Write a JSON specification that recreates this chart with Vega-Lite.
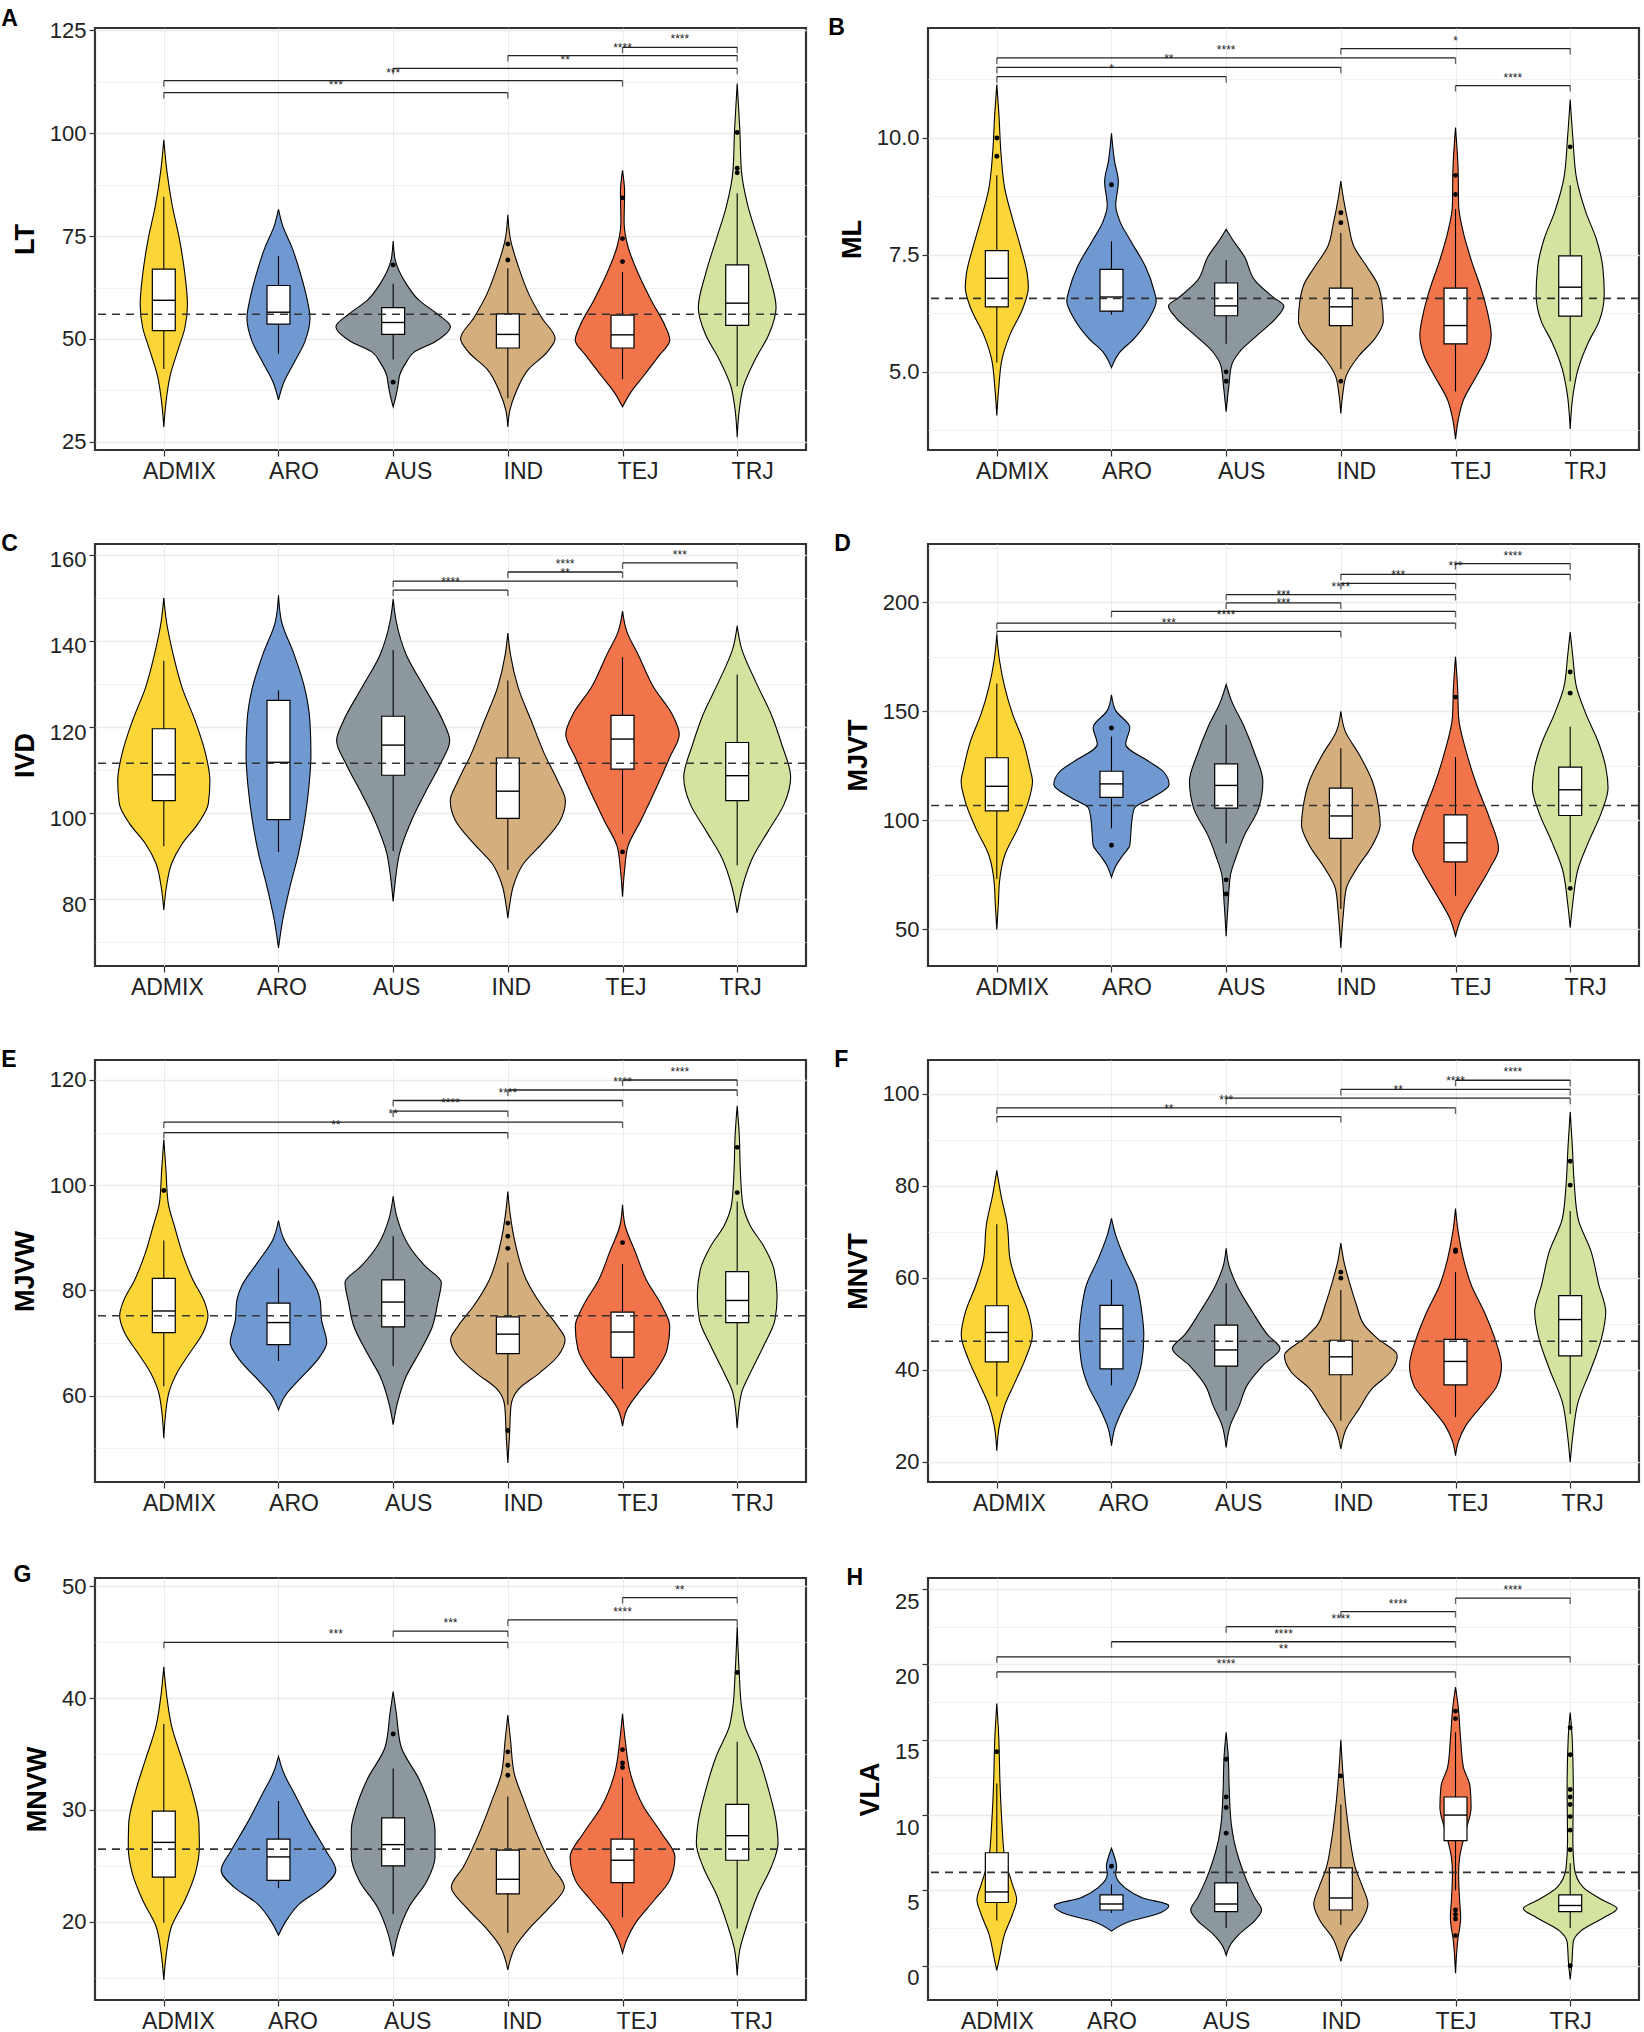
{
  "$schema": "https://vega.github.io/schema/vega-lite/v6.json",
  "padding": {"left": 0, "top": 7, "right": 0, "bottom": 0},
  "background": "white",
  "columns": 2,
  "spacing": {"row": 46, "column": 19},
  "datasets": {
    "viol": [
      {"p":"A","g":"ADMIX","y":98.4,"w":0},{"p":"A","g":"ADMIX","y":90.8,"w":0.027},{"p":"A","g":"ADMIX","y":82.5,"w":0.073},{"p":"A","g":"ADMIX","y":74.2,"w":0.137},{"p":"A","g":"ADMIX","y":65.9,"w":0.183},{"p":"A","g":"ADMIX","y":58.4,"w":0.206},{"p":"A","g":"ADMIX","y":52.6,"w":0.183},{"p":"A","g":"ADMIX","y":47.7,"w":0.128},{"p":"A","g":"ADMIX","y":41.0,"w":0.055},{"p":"A","g":"ADMIX","y":34.4,"w":0.018},{"p":"A","g":"ADMIX","y":28.6,"w":0},
      {"p":"A","g":"ARO","y":81.5,"w":0},{"p":"A","g":"ARO","y":77.5,"w":0.037},{"p":"A","g":"ARO","y":72.5,"w":0.114},{"p":"A","g":"ARO","y":65.9,"w":0.192},{"p":"A","g":"ARO","y":59.3,"w":0.252},{"p":"A","g":"ARO","y":55.1,"w":0.275},{"p":"A","g":"ARO","y":49.3,"w":0.229},{"p":"A","g":"ARO","y":44.3,"w":0.137},{"p":"A","g":"ARO","y":39.4,"w":0.046},{"p":"A","g":"ARO","y":35.2,"w":0},
      {"p":"A","g":"AUS","y":73.8,"w":0},{"p":"A","g":"AUS","y":69.2,"w":0.018},{"p":"A","g":"AUS","y":63.4,"w":0.114},{"p":"A","g":"AUS","y":59.3,"w":0.229},{"p":"A","g":"AUS","y":56.0,"w":0.389},{"p":"A","g":"AUS","y":53.0,"w":0.499},{"p":"A","g":"AUS","y":49.3,"w":0.366},{"p":"A","g":"AUS","y":46.8,"w":0.183},{"p":"A","g":"AUS","y":44.3,"w":0.114},{"p":"A","g":"AUS","y":41.0,"w":0.055},{"p":"A","g":"AUS","y":39.4,"w":0.046},{"p":"A","g":"AUS","y":36.0,"w":0.023},{"p":"A","g":"AUS","y":33.5,"w":0},
      {"p":"A","g":"IND","y":80.2,"w":0},{"p":"A","g":"IND","y":74.2,"w":0.023},{"p":"A","g":"IND","y":67.6,"w":0.092},{"p":"A","g":"IND","y":60.9,"w":0.183},{"p":"A","g":"IND","y":55.1,"w":0.297},{"p":"A","g":"IND","y":50.1,"w":0.412},{"p":"A","g":"IND","y":46.8,"w":0.343},{"p":"A","g":"IND","y":42.7,"w":0.183},{"p":"A","g":"IND","y":36.9,"w":0.069},{"p":"A","g":"IND","y":32.7,"w":0.018},{"p":"A","g":"IND","y":28.6,"w":0},
      {"p":"A","g":"TEJ","y":91.0,"w":0},{"p":"A","g":"TEJ","y":85.8,"w":0.018},{"p":"A","g":"TEJ","y":78.4,"w":0.014},{"p":"A","g":"TEJ","y":72.6,"w":0.046},{"p":"A","g":"TEJ","y":65.9,"w":0.137},{"p":"A","g":"TEJ","y":59.3,"w":0.252},{"p":"A","g":"TEJ","y":53.5,"w":0.366},{"p":"A","g":"TEJ","y":49.7,"w":0.412},{"p":"A","g":"TEJ","y":46.0,"w":0.32},{"p":"A","g":"TEJ","y":41.0,"w":0.183},{"p":"A","g":"TEJ","y":36.9,"w":0.069},{"p":"A","g":"TEJ","y":33.5,"w":0},
      {"p":"A","g":"TRJ","y":112.1,"w":0},{"p":"A","g":"TRJ","y":100.8,"w":0.023},{"p":"A","g":"TRJ","y":90.8,"w":0.037},{"p":"A","g":"TRJ","y":82.5,"w":0.092},{"p":"A","g":"TRJ","y":74.2,"w":0.183},{"p":"A","g":"TRJ","y":65.9,"w":0.275},{"p":"A","g":"TRJ","y":57.6,"w":0.339},{"p":"A","g":"TRJ","y":51.0,"w":0.275},{"p":"A","g":"TRJ","y":45.2,"w":0.16},{"p":"A","g":"TRJ","y":38.5,"w":0.055},{"p":"A","g":"TRJ","y":32.7,"w":0.018},{"p":"A","g":"TRJ","y":26.1,"w":0},

      {"p":"B","g":"ADMIX","y":11.14,"w":0},{"p":"B","g":"ADMIX","y":10.52,"w":0.018},{"p":"B","g":"ADMIX","y":9.65,"w":0.037},{"p":"B","g":"ADMIX","y":8.92,"w":0.069},{"p":"B","g":"ADMIX","y":8.27,"w":0.137},{"p":"B","g":"ADMIX","y":7.68,"w":0.206},{"p":"B","g":"ADMIX","y":7.1,"w":0.265},{"p":"B","g":"ADMIX","y":6.81,"w":0.275},{"p":"B","g":"ADMIX","y":6.37,"w":0.229},{"p":"B","g":"ADMIX","y":5.79,"w":0.114},{"p":"B","g":"ADMIX","y":5.28,"w":0.046},{"p":"B","g":"ADMIX","y":4.69,"w":0.018},{"p":"B","g":"ADMIX","y":4.07,"w":0},
      {"p":"B","g":"ARO","y":10.1,"w":0},{"p":"B","g":"ARO","y":9.5,"w":0.027},{"p":"B","g":"ARO","y":9.07,"w":0.06},{"p":"B","g":"ARO","y":8.56,"w":0.037},{"p":"B","g":"ARO","y":8.19,"w":0.078},{"p":"B","g":"ARO","y":7.83,"w":0.16},{"p":"B","g":"ARO","y":7.24,"w":0.298},{"p":"B","g":"ARO","y":6.73,"w":0.372},{"p":"B","g":"ARO","y":6.52,"w":0.39},{"p":"B","g":"ARO","y":6.15,"w":0.33},{"p":"B","g":"ARO","y":5.71,"w":0.197},{"p":"B","g":"ARO","y":5.42,"w":0.073},{"p":"B","g":"ARO","y":5.09,"w":0},
      {"p":"B","g":"AUS","y":8.05,"w":0},{"p":"B","g":"AUS","y":7.83,"w":0.055},{"p":"B","g":"AUS","y":7.46,"w":0.16},{"p":"B","g":"AUS","y":6.95,"w":0.252},{"p":"B","g":"AUS","y":6.59,"w":0.412},{"p":"B","g":"AUS","y":6.41,"w":0.503},{"p":"B","g":"AUS","y":6.15,"w":0.435},{"p":"B","g":"AUS","y":5.79,"w":0.275},{"p":"B","g":"AUS","y":5.42,"w":0.114},{"p":"B","g":"AUS","y":5.13,"w":0.046},{"p":"B","g":"AUS","y":4.69,"w":0.023},{"p":"B","g":"AUS","y":4.15,"w":0},
      {"p":"B","g":"IND","y":9.08,"w":0},{"p":"B","g":"IND","y":8.7,"w":0.023},{"p":"B","g":"IND","y":8.19,"w":0.064},{"p":"B","g":"IND","y":7.68,"w":0.114},{"p":"B","g":"IND","y":7.24,"w":0.229},{"p":"B","g":"IND","y":6.88,"w":0.32},{"p":"B","g":"IND","y":6.52,"w":0.357},{"p":"B","g":"IND","y":6.08,"w":0.37},{"p":"B","g":"IND","y":5.71,"w":0.297},{"p":"B","g":"IND","y":5.35,"w":0.16},{"p":"B","g":"IND","y":4.91,"w":0.046},{"p":"B","g":"IND","y":4.55,"w":0.018},{"p":"B","g":"IND","y":4.11,"w":0},
      {"p":"B","g":"TEJ","y":10.22,"w":0},{"p":"B","g":"TEJ","y":9.29,"w":0.023},{"p":"B","g":"TEJ","y":8.56,"w":0.027},{"p":"B","g":"TEJ","y":7.97,"w":0.069},{"p":"B","g":"TEJ","y":7.39,"w":0.137},{"p":"B","g":"TEJ","y":6.73,"w":0.229},{"p":"B","g":"TEJ","y":6.22,"w":0.284},{"p":"B","g":"TEJ","y":5.79,"w":0.311},{"p":"B","g":"TEJ","y":5.35,"w":0.275},{"p":"B","g":"TEJ","y":4.91,"w":0.183},{"p":"B","g":"TEJ","y":4.4,"w":0.069},{"p":"B","g":"TEJ","y":3.97,"w":0.023},{"p":"B","g":"TEJ","y":3.56,"w":0},
      {"p":"B","g":"TRJ","y":10.82,"w":0},{"p":"B","g":"TRJ","y":10.01,"w":0.023},{"p":"B","g":"TRJ","y":9.14,"w":0.055},{"p":"B","g":"TRJ","y":8.41,"w":0.137},{"p":"B","g":"TRJ","y":7.83,"w":0.229},{"p":"B","g":"TRJ","y":7.24,"w":0.284},{"p":"B","g":"TRJ","y":6.66,"w":0.297},{"p":"B","g":"TRJ","y":6.08,"w":0.252},{"p":"B","g":"TRJ","y":5.64,"w":0.16},{"p":"B","g":"TRJ","y":5.06,"w":0.069},{"p":"B","g":"TRJ","y":4.55,"w":0.027},{"p":"B","g":"TRJ","y":3.78,"w":0},

      {"p":"C","g":"ADMIX","y":150,"w":0},{"p":"C","g":"ADMIX","y":144.5,"w":0.023},{"p":"C","g":"ADMIX","y":136.8,"w":0.082},{"p":"C","g":"ADMIX","y":129.1,"w":0.16},{"p":"C","g":"ADMIX","y":121.4,"w":0.274},{"p":"C","g":"ADMIX","y":113.7,"w":0.365},{"p":"C","g":"ADMIX","y":107.5,"w":0.402},{"p":"C","g":"ADMIX","y":102.2,"w":0.388},{"p":"C","g":"ADMIX","y":97.5,"w":0.297},{"p":"C","g":"ADMIX","y":92.9,"w":0.16},{"p":"C","g":"ADMIX","y":88.3,"w":0.068},{"p":"C","g":"ADMIX","y":82.9,"w":0.023},{"p":"C","g":"ADMIX","y":77.5,"w":0},
      {"p":"C","g":"ARO","y":150.6,"w":0},{"p":"C","g":"ARO","y":144.5,"w":0.027},{"p":"C","g":"ARO","y":136.8,"w":0.137},{"p":"C","g":"ARO","y":129.1,"w":0.228},{"p":"C","g":"ARO","y":121.4,"w":0.274},{"p":"C","g":"ARO","y":113.7,"w":0.283},{"p":"C","g":"ARO","y":106,"w":0.265},{"p":"C","g":"ARO","y":98.3,"w":0.228},{"p":"C","g":"ARO","y":90.6,"w":0.174},{"p":"C","g":"ARO","y":82.9,"w":0.1},{"p":"C","g":"ARO","y":75.2,"w":0.037},{"p":"C","g":"ARO","y":68.7,"w":0},
      {"p":"C","g":"AUS","y":149.7,"w":0},{"p":"C","g":"AUS","y":144.5,"w":0.027},{"p":"C","g":"AUS","y":136.8,"w":0.114},{"p":"C","g":"AUS","y":129.1,"w":0.274},{"p":"C","g":"AUS","y":121.4,"w":0.434},{"p":"C","g":"AUS","y":116.8,"w":0.493},{"p":"C","g":"AUS","y":111.4,"w":0.411},{"p":"C","g":"AUS","y":104.5,"w":0.274},{"p":"C","g":"AUS","y":98.3,"w":0.16},{"p":"C","g":"AUS","y":90.6,"w":0.055},{"p":"C","g":"AUS","y":85.2,"w":0.023},{"p":"C","g":"AUS","y":79.5,"w":0},
      {"p":"C","g":"IND","y":141.8,"w":0},{"p":"C","g":"IND","y":136.8,"w":0.023},{"p":"C","g":"IND","y":129.1,"w":0.091},{"p":"C","g":"IND","y":121.4,"w":0.205},{"p":"C","g":"IND","y":113.7,"w":0.32},{"p":"C","g":"IND","y":107.5,"w":0.434},{"p":"C","g":"IND","y":102.9,"w":0.502},{"p":"C","g":"IND","y":98.3,"w":0.457},{"p":"C","g":"IND","y":92.9,"w":0.297},{"p":"C","g":"IND","y":88.3,"w":0.137},{"p":"C","g":"IND","y":82.9,"w":0.046},{"p":"C","g":"IND","y":79.1,"w":0.018},{"p":"C","g":"IND","y":75.6,"w":0},
      {"p":"C","g":"TEJ","y":146.9,"w":0},{"p":"C","g":"TEJ","y":142.2,"w":0.037},{"p":"C","g":"TEJ","y":136.8,"w":0.137},{"p":"C","g":"TEJ","y":129.1,"w":0.274},{"p":"C","g":"TEJ","y":122.9,"w":0.434},{"p":"C","g":"TEJ","y":118.3,"w":0.495},{"p":"C","g":"TEJ","y":112.9,"w":0.411},{"p":"C","g":"TEJ","y":106,"w":0.297},{"p":"C","g":"TEJ","y":98.3,"w":0.16},{"p":"C","g":"TEJ","y":92.2,"w":0.046},{"p":"C","g":"TEJ","y":86.8,"w":0.018},{"p":"C","g":"TEJ","y":80.6,"w":0},
      {"p":"C","g":"TRJ","y":143.5,"w":0},{"p":"C","g":"TRJ","y":138.3,"w":0.037},{"p":"C","g":"TRJ","y":130.6,"w":0.16},{"p":"C","g":"TRJ","y":122.9,"w":0.297},{"p":"C","g":"TRJ","y":116,"w":0.388},{"p":"C","g":"TRJ","y":108.3,"w":0.466},{"p":"C","g":"TRJ","y":102.2,"w":0.411},{"p":"C","g":"TRJ","y":96,"w":0.274},{"p":"C","g":"TRJ","y":89.8,"w":0.137},{"p":"C","g":"TRJ","y":82.9,"w":0.046},{"p":"C","g":"TRJ","y":76.8,"w":0},

      {"p":"D","g":"ADMIX","y":185,"w":0},{"p":"D","g":"ADMIX","y":173.5,"w":0.023},{"p":"D","g":"ADMIX","y":161.1,"w":0.069},{"p":"D","g":"ADMIX","y":148.8,"w":0.137},{"p":"D","g":"ADMIX","y":136.4,"w":0.229},{"p":"D","g":"ADMIX","y":124.1,"w":0.288},{"p":"D","g":"ADMIX","y":117.9,"w":0.311},{"p":"D","g":"ADMIX","y":108.6,"w":0.275},{"p":"D","g":"ADMIX","y":96.3,"w":0.183},{"p":"D","g":"ADMIX","y":84,"w":0.069},{"p":"D","g":"ADMIX","y":71.6,"w":0.023},{"p":"D","g":"ADMIX","y":62.3,"w":0.014},{"p":"D","g":"ADMIX","y":50,"w":0},
      {"p":"D","g":"ARO","y":157.6,"w":0},{"p":"D","g":"ARO","y":150.3,"w":0.037},{"p":"D","g":"ARO","y":142.6,"w":0.16},{"p":"D","g":"ARO","y":134.9,"w":0.124},{"p":"D","g":"ARO","y":127.2,"w":0.32},{"p":"D","g":"ARO","y":122.5,"w":0.45},{"p":"D","g":"ARO","y":116.4,"w":0.503},{"p":"D","g":"ARO","y":110.2,"w":0.35},{"p":"D","g":"ARO","y":105.6,"w":0.2},{"p":"D","g":"ARO","y":100.9,"w":0.18},{"p":"D","g":"ARO","y":95,"w":0.17},{"p":"D","g":"ARO","y":88.6,"w":0.16},{"p":"D","g":"ARO","y":84,"w":0.1},{"p":"D","g":"ARO","y":79.3,"w":0.04},{"p":"D","g":"ARO","y":73.9,"w":0},
      {"p":"D","g":"AUS","y":162.3,"w":0},{"p":"D","g":"AUS","y":154.9,"w":0.046},{"p":"D","g":"AUS","y":142.6,"w":0.16},{"p":"D","g":"AUS","y":130.2,"w":0.252},{"p":"D","g":"AUS","y":117.9,"w":0.32},{"p":"D","g":"AUS","y":105.6,"w":0.284},{"p":"D","g":"AUS","y":93.2,"w":0.16},{"p":"D","g":"AUS","y":84,"w":0.092},{"p":"D","g":"AUS","y":74.7,"w":0.037},{"p":"D","g":"AUS","y":62.3,"w":0.018},{"p":"D","g":"AUS","y":46.9,"w":0},
      {"p":"D","g":"IND","y":150,"w":0},{"p":"D","g":"IND","y":141,"w":0.037},{"p":"D","g":"IND","y":130.2,"w":0.16},{"p":"D","g":"IND","y":117.9,"w":0.275},{"p":"D","g":"IND","y":105.6,"w":0.33},{"p":"D","g":"IND","y":97.8,"w":0.343},{"p":"D","g":"IND","y":88.6,"w":0.275},{"p":"D","g":"IND","y":77.8,"w":0.137},{"p":"D","g":"IND","y":68.5,"w":0.046},{"p":"D","g":"IND","y":57.7,"w":0.023},{"p":"D","g":"IND","y":41.5,"w":0},
      {"p":"D","g":"TEJ","y":175,"w":0},{"p":"D","g":"TEJ","y":161.1,"w":0.018},{"p":"D","g":"TEJ","y":147.2,"w":0.027},{"p":"D","g":"TEJ","y":131.8,"w":0.092},{"p":"D","g":"TEJ","y":116.4,"w":0.183},{"p":"D","g":"TEJ","y":100.9,"w":0.297},{"p":"D","g":"TEJ","y":87,"w":0.375},{"p":"D","g":"TEJ","y":77.8,"w":0.297},{"p":"D","g":"TEJ","y":65.4,"w":0.16},{"p":"D","g":"TEJ","y":54.6,"w":0.046},{"p":"D","g":"TEJ","y":46.9,"w":0},
      {"p":"D","g":"TRJ","y":186.3,"w":0},{"p":"D","g":"TRJ","y":175,"w":0.023},{"p":"D","g":"TRJ","y":161.1,"w":0.055},{"p":"D","g":"TRJ","y":148.8,"w":0.137},{"p":"D","g":"TRJ","y":134.9,"w":0.252},{"p":"D","g":"TRJ","y":124.1,"w":0.311},{"p":"D","g":"TRJ","y":114.8,"w":0.33},{"p":"D","g":"TRJ","y":104,"w":0.275},{"p":"D","g":"TRJ","y":90.1,"w":0.16},{"p":"D","g":"TRJ","y":77.8,"w":0.069},{"p":"D","g":"TRJ","y":62.3,"w":0.023},{"p":"D","g":"TRJ","y":50.8,"w":0},

      {"p":"E","g":"ADMIX","y":108.7,"w":0},{"p":"E","g":"ADMIX","y":103.1,"w":0.018},{"p":"E","g":"ADMIX","y":96.8,"w":0.037},{"p":"E","g":"ADMIX","y":92.3,"w":0.092},{"p":"E","g":"ADMIX","y":87.2,"w":0.16},{"p":"E","g":"ADMIX","y":82.1,"w":0.252},{"p":"E","g":"ADMIX","y":77.7,"w":0.357},{"p":"E","g":"ADMIX","y":75.2,"w":0.385},{"p":"E","g":"ADMIX","y":72,"w":0.343},{"p":"E","g":"ADMIX","y":68.2,"w":0.229},{"p":"E","g":"ADMIX","y":64.3,"w":0.114},{"p":"E","g":"ADMIX","y":59.9,"w":0.037},{"p":"E","g":"ADMIX","y":51.9,"w":0},
      {"p":"E","g":"ARO","y":93.3,"w":0},{"p":"E","g":"ARO","y":89.8,"w":0.046},{"p":"E","g":"ARO","y":85.3,"w":0.183},{"p":"E","g":"ARO","y":80.9,"w":0.32},{"p":"E","g":"ARO","y":77.7,"w":0.366},{"p":"E","g":"ARO","y":74.5,"w":0.375},{"p":"E","g":"ARO","y":70.1,"w":0.421},{"p":"E","g":"ARO","y":66.9,"w":0.343},{"p":"E","g":"ARO","y":63.1,"w":0.183},{"p":"E","g":"ARO","y":59.9,"w":0.055},{"p":"E","g":"ARO","y":57.3,"w":0},
      {"p":"E","g":"AUS","y":97.9,"w":0},{"p":"E","g":"AUS","y":93.6,"w":0.037},{"p":"E","g":"AUS","y":88.5,"w":0.137},{"p":"E","g":"AUS","y":84.7,"w":0.275},{"p":"E","g":"AUS","y":81.5,"w":0.42},{"p":"E","g":"AUS","y":77.7,"w":0.389},{"p":"E","g":"AUS","y":73.2,"w":0.343},{"p":"E","g":"AUS","y":68.2,"w":0.229},{"p":"E","g":"AUS","y":63.7,"w":0.114},{"p":"E","g":"AUS","y":58.6,"w":0.037},{"p":"E","g":"AUS","y":54.5,"w":0},
      {"p":"E","g":"IND","y":98.8,"w":0},{"p":"E","g":"IND","y":94.9,"w":0.018},{"p":"E","g":"IND","y":88.5,"w":0.069},{"p":"E","g":"IND","y":82.1,"w":0.16},{"p":"E","g":"IND","y":77.1,"w":0.297},{"p":"E","g":"IND","y":73.2,"w":0.435},{"p":"E","g":"IND","y":70.7,"w":0.499},{"p":"E","g":"IND","y":67.5,"w":0.435},{"p":"E","g":"IND","y":64.3,"w":0.275},{"p":"E","g":"IND","y":61.2,"w":0.092},{"p":"E","g":"IND","y":58,"w":0.027},{"p":"E","g":"IND","y":52.3,"w":0.014},{"p":"E","g":"IND","y":47.2,"w":0},
      {"p":"E","g":"TEJ","y":96.3,"w":0},{"p":"E","g":"TEJ","y":92.3,"w":0.023},{"p":"E","g":"TEJ","y":87.2,"w":0.114},{"p":"E","g":"TEJ","y":82.1,"w":0.206},{"p":"E","g":"TEJ","y":77.1,"w":0.343},{"p":"E","g":"TEJ","y":73.2,"w":0.412},{"p":"E","g":"TEJ","y":68.8,"w":0.389},{"p":"E","g":"TEJ","y":64.3,"w":0.275},{"p":"E","g":"TEJ","y":60.5,"w":0.137},{"p":"E","g":"TEJ","y":57.3,"w":0.037},{"p":"E","g":"TEJ","y":54.2,"w":0},
      {"p":"E","g":"TRJ","y":115.1,"w":0},{"p":"E","g":"TRJ","y":109.5,"w":0.018},{"p":"E","g":"TRJ","y":103.1,"w":0.027},{"p":"E","g":"TRJ","y":96.8,"w":0.046},{"p":"E","g":"TRJ","y":92.3,"w":0.114},{"p":"E","g":"TRJ","y":88.5,"w":0.229},{"p":"E","g":"TRJ","y":84.1,"w":0.32},{"p":"E","g":"TRJ","y":79,"w":0.348},{"p":"E","g":"TRJ","y":74.5,"w":0.33},{"p":"E","g":"TRJ","y":69.4,"w":0.229},{"p":"E","g":"TRJ","y":64.3,"w":0.114},{"p":"E","g":"TRJ","y":60.5,"w":0.037},{"p":"E","g":"TRJ","y":53.8,"w":0},

      {"p":"F","g":"ADMIX","y":83.3,"w":0},{"p":"F","g":"ADMIX","y":78,"w":0.036},{"p":"F","g":"ADMIX","y":71.5,"w":0.091},{"p":"F","g":"ADMIX","y":64.2,"w":0.114},{"p":"F","g":"ADMIX","y":58.4,"w":0.182},{"p":"F","g":"ADMIX","y":52.6,"w":0.273},{"p":"F","g":"ADMIX","y":47.5,"w":0.31},{"p":"F","g":"ADMIX","y":42.4,"w":0.25},{"p":"F","g":"ADMIX","y":37.3,"w":0.159},{"p":"F","g":"ADMIX","y":32.2,"w":0.068},{"p":"F","g":"ADMIX","y":27.9,"w":0.023},{"p":"F","g":"ADMIX","y":22.4,"w":0},
      {"p":"F","g":"ARO","y":72.9,"w":0},{"p":"F","g":"ARO","y":69.3,"w":0.036},{"p":"F","g":"ARO","y":64.2,"w":0.114},{"p":"F","g":"ARO","y":58.4,"w":0.219},{"p":"F","g":"ARO","y":52.6,"w":0.264},{"p":"F","g":"ARO","y":47.5,"w":0.282},{"p":"F","g":"ARO","y":41.7,"w":0.264},{"p":"F","g":"ARO","y":36.6,"w":0.205},{"p":"F","g":"ARO","y":31.5,"w":0.1},{"p":"F","g":"ARO","y":27.1,"w":0.027},{"p":"F","g":"ARO","y":23.5,"w":0},
      {"p":"F","g":"AUS","y":66.4,"w":0},{"p":"F","g":"AUS","y":62.8,"w":0.023},{"p":"F","g":"AUS","y":58.4,"w":0.091},{"p":"F","g":"AUS","y":52.6,"w":0.228},{"p":"F","g":"AUS","y":47.5,"w":0.364},{"p":"F","g":"AUS","y":44.6,"w":0.469},{"p":"F","g":"AUS","y":40.9,"w":0.319},{"p":"F","g":"AUS","y":36.6,"w":0.182},{"p":"F","g":"AUS","y":32.2,"w":0.114},{"p":"F","g":"AUS","y":27.9,"w":0.036},{"p":"F","g":"AUS","y":23.1,"w":0},
      {"p":"F","g":"IND","y":67.5,"w":0},{"p":"F","g":"IND","y":63.5,"w":0.027},{"p":"F","g":"IND","y":58.4,"w":0.082},{"p":"F","g":"IND","y":54,"w":0.137},{"p":"F","g":"IND","y":49.7,"w":0.205},{"p":"F","g":"IND","y":46.8,"w":0.319},{"p":"F","g":"IND","y":43.1,"w":0.492},{"p":"F","g":"IND","y":39.5,"w":0.433},{"p":"F","g":"IND","y":35.9,"w":0.273},{"p":"F","g":"IND","y":31.5,"w":0.159},{"p":"F","g":"IND","y":27.1,"w":0.046},{"p":"F","g":"IND","y":22.8,"w":0},
      {"p":"F","g":"TEJ","y":75,"w":0},{"p":"F","g":"TEJ","y":70,"w":0.023},{"p":"F","g":"TEJ","y":64.2,"w":0.068},{"p":"F","g":"TEJ","y":58.4,"w":0.137},{"p":"F","g":"TEJ","y":52.6,"w":0.25},{"p":"F","g":"TEJ","y":46.8,"w":0.342},{"p":"F","g":"TEJ","y":40.9,"w":0.401},{"p":"F","g":"TEJ","y":36.6,"w":0.364},{"p":"F","g":"TEJ","y":32.2,"w":0.228},{"p":"F","g":"TEJ","y":27.9,"w":0.091},{"p":"F","g":"TEJ","y":24.2,"w":0.023},{"p":"F","g":"TEJ","y":21.3,"w":0},
      {"p":"F","g":"TRJ","y":96,"w":0},{"p":"F","g":"TRJ","y":88.9,"w":0.018},{"p":"F","g":"TRJ","y":80.2,"w":0.036},{"p":"F","g":"TRJ","y":72.9,"w":0.068},{"p":"F","g":"TRJ","y":65.7,"w":0.182},{"p":"F","g":"TRJ","y":58.4,"w":0.25},{"p":"F","g":"TRJ","y":52.6,"w":0.31},{"p":"F","g":"TRJ","y":46.8,"w":0.273},{"p":"F","g":"TRJ","y":40.2,"w":0.182},{"p":"F","g":"TRJ","y":32.9,"w":0.068},{"p":"F","g":"TRJ","y":25.7,"w":0.023},{"p":"F","g":"TRJ","y":19.9,"w":0},

      {"p":"G","g":"ADMIX","y":42.8,"w":0},{"p":"G","g":"ADMIX","y":40.4,"w":0.023},{"p":"G","g":"ADMIX","y":37.5,"w":0.068},{"p":"G","g":"ADMIX","y":34.5,"w":0.16},{"p":"G","g":"ADMIX","y":31.5,"w":0.251},{"p":"G","g":"ADMIX","y":28.8,"w":0.306},{"p":"G","g":"ADMIX","y":26.7,"w":0.31},{"p":"G","g":"ADMIX","y":24.3,"w":0.274},{"p":"G","g":"ADMIX","y":21.9,"w":0.183},{"p":"G","g":"ADMIX","y":19.6,"w":0.068},{"p":"G","g":"ADMIX","y":17.2,"w":0.023},{"p":"G","g":"ADMIX","y":14.8,"w":0},
      {"p":"G","g":"ARO","y":34.8,"w":0},{"p":"G","g":"ARO","y":33.3,"w":0.046},{"p":"G","g":"ARO","y":31.5,"w":0.137},{"p":"G","g":"ARO","y":28.8,"w":0.274},{"p":"G","g":"ARO","y":26.4,"w":0.411},{"p":"G","g":"ARO","y":24.6,"w":0.5},{"p":"G","g":"ARO","y":23.1,"w":0.388},{"p":"G","g":"ARO","y":21.6,"w":0.183},{"p":"G","g":"ARO","y":20.1,"w":0.068},{"p":"G","g":"ARO","y":18.8,"w":0},
      {"p":"G","g":"AUS","y":40.6,"w":0},{"p":"G","g":"AUS","y":38.7,"w":0.027},{"p":"G","g":"AUS","y":35.7,"w":0.068},{"p":"G","g":"AUS","y":32.7,"w":0.228},{"p":"G","g":"AUS","y":30.3,"w":0.32},{"p":"G","g":"AUS","y":28.2,"w":0.365},{"p":"G","g":"AUS","y":25.8,"w":0.365},{"p":"G","g":"AUS","y":23.7,"w":0.297},{"p":"G","g":"AUS","y":21.3,"w":0.137},{"p":"G","g":"AUS","y":19,"w":0.046},{"p":"G","g":"AUS","y":16.9,"w":0},
      {"p":"G","g":"IND","y":38.5,"w":0},{"p":"G","g":"IND","y":36.3,"w":0.023},{"p":"G","g":"IND","y":33.3,"w":0.055},{"p":"G","g":"IND","y":30.9,"w":0.137},{"p":"G","g":"IND","y":27.9,"w":0.251},{"p":"G","g":"IND","y":24.9,"w":0.388},{"p":"G","g":"IND","y":23.1,"w":0.493},{"p":"G","g":"IND","y":21.3,"w":0.365},{"p":"G","g":"IND","y":19.6,"w":0.205},{"p":"G","g":"IND","y":17.8,"w":0.068},{"p":"G","g":"IND","y":15.7,"w":0},
      {"p":"G","g":"TEJ","y":38.6,"w":0},{"p":"G","g":"TEJ","y":36.3,"w":0.023},{"p":"G","g":"TEJ","y":33.3,"w":0.068},{"p":"G","g":"TEJ","y":30.3,"w":0.183},{"p":"G","g":"TEJ","y":27.9,"w":0.342},{"p":"G","g":"TEJ","y":25.8,"w":0.457},{"p":"G","g":"TEJ","y":23.7,"w":0.411},{"p":"G","g":"TEJ","y":21.9,"w":0.274},{"p":"G","g":"TEJ","y":19.9,"w":0.114},{"p":"G","g":"TEJ","y":18.4,"w":0.037},{"p":"G","g":"TEJ","y":17.2,"w":0},
      {"p":"G","g":"TRJ","y":46.4,"w":0},{"p":"G","g":"TRJ","y":42.2,"w":0.018},{"p":"G","g":"TRJ","y":39.3,"w":0.037},{"p":"G","g":"TRJ","y":37.5,"w":0.068},{"p":"G","g":"TRJ","y":34.8,"w":0.183},{"p":"G","g":"TRJ","y":31.8,"w":0.274},{"p":"G","g":"TRJ","y":28.8,"w":0.342},{"p":"G","g":"TRJ","y":27,"w":0.356},{"p":"G","g":"TRJ","y":24.9,"w":0.297},{"p":"G","g":"TRJ","y":22.5,"w":0.183},{"p":"G","g":"TRJ","y":19.9,"w":0.091},{"p":"G","g":"TRJ","y":17.5,"w":0.023},{"p":"G","g":"TRJ","y":15.2,"w":0},

      {"p":"H","g":"ADMIX","y":17.4,"w":0},{"p":"H","g":"ADMIX","y":15,"w":0.018},{"p":"H","g":"ADMIX","y":12.3,"w":0.027},{"p":"H","g":"ADMIX","y":9.4,"w":0.045},{"p":"H","g":"ADMIX","y":7.2,"w":0.068},{"p":"H","g":"ADMIX","y":5.4,"w":0.136},{"p":"H","g":"ADMIX","y":4.4,"w":0.173},{"p":"H","g":"ADMIX","y":3.4,"w":0.136},{"p":"H","g":"ADMIX","y":2.1,"w":0.068},{"p":"H","g":"ADMIX","y":0.5,"w":0.023},{"p":"H","g":"ADMIX","y":-0.3,"w":0},
      {"p":"H","g":"ARO","y":7.8,"w":0},{"p":"H","g":"ARO","y":7.2,"w":0.027},{"p":"H","g":"ARO","y":6.6,"w":0.045},{"p":"H","g":"ARO","y":6.1,"w":0.036},{"p":"H","g":"ARO","y":5.2,"w":0.114},{"p":"H","g":"ARO","y":4.5,"w":0.273},{"p":"H","g":"ARO","y":4,"w":0.5},{"p":"H","g":"ARO","y":3.4,"w":0.386},{"p":"H","g":"ARO","y":3,"w":0.182},{"p":"H","g":"ARO","y":2.3,"w":0},
      {"p":"H","g":"AUS","y":15.5,"w":0},{"p":"H","g":"AUS","y":13.9,"w":0.018},{"p":"H","g":"AUS","y":11.6,"w":0.027},{"p":"H","g":"AUS","y":9.4,"w":0.045},{"p":"H","g":"AUS","y":8.3,"w":0.068},{"p":"H","g":"AUS","y":7,"w":0.114},{"p":"H","g":"AUS","y":5.6,"w":0.182},{"p":"H","g":"AUS","y":4.5,"w":0.25},{"p":"H","g":"AUS","y":3.7,"w":0.309},{"p":"H","g":"AUS","y":3,"w":0.25},{"p":"H","g":"AUS","y":2.1,"w":0.114},{"p":"H","g":"AUS","y":1.3,"w":0.03},{"p":"H","g":"AUS","y":0.7,"w":0},
      {"p":"H","g":"IND","y":15,"w":0},{"p":"H","g":"IND","y":12.8,"w":0.018},{"p":"H","g":"IND","y":10.5,"w":0.045},{"p":"H","g":"IND","y":8.3,"w":0.082},{"p":"H","g":"IND","y":6.5,"w":0.127},{"p":"H","g":"IND","y":5.2,"w":0.191},{"p":"H","g":"IND","y":4.1,"w":0.236},{"p":"H","g":"IND","y":3,"w":0.182},{"p":"H","g":"IND","y":1.8,"w":0.068},{"p":"H","g":"IND","y":0.8,"w":0.018},{"p":"H","g":"IND","y":0.3,"w":0},
      {"p":"H","g":"TEJ","y":18.5,"w":0},{"p":"H","g":"TEJ","y":17.2,"w":0.023},{"p":"H","g":"TEJ","y":15,"w":0.045},{"p":"H","g":"TEJ","y":13.2,"w":0.068},{"p":"H","g":"TEJ","y":11.9,"w":0.127},{"p":"H","g":"TEJ","y":10.5,"w":0.136},{"p":"H","g":"TEJ","y":9,"w":0.091},{"p":"H","g":"TEJ","y":7.2,"w":0.036},{"p":"H","g":"TEJ","y":6.1,"w":0.027},{"p":"H","g":"TEJ","y":4.3,"w":0.036},{"p":"H","g":"TEJ","y":3.2,"w":0.045},{"p":"H","g":"TEJ","y":1.6,"w":0.018},{"p":"H","g":"TEJ","y":-0.5,"w":0},
      {"p":"H","g":"TRJ","y":16.8,"w":0},{"p":"H","g":"TRJ","y":15,"w":0.018},{"p":"H","g":"TRJ","y":11.6,"w":0.027},{"p":"H","g":"TRJ","y":8.3,"w":0.023},{"p":"H","g":"TRJ","y":6.5,"w":0.036},{"p":"H","g":"TRJ","y":5.2,"w":0.114},{"p":"H","g":"TRJ","y":4.4,"w":0.273},{"p":"H","g":"TRJ","y":3.8,"w":0.409},{"p":"H","g":"TRJ","y":3.2,"w":0.295},{"p":"H","g":"TRJ","y":2.3,"w":0.091},{"p":"H","g":"TRJ","y":1.6,"w":0.027},{"p":"H","g":"TRJ","y":0.1,"w":0.014},{"p":"H","g":"TRJ","y":-0.9,"w":0}
    ],
    "box": [
      {"p":"A","g":"ADMIX","lo":42.7,"q1":52.0,"md":59.4,"q3":67.0,"hi":84.6},
      {"p":"A","g":"ARO","lo":46.4,"q1":53.6,"md":56.5,"q3":63.0,"hi":70.2},
      {"p":"A","g":"AUS","lo":45.0,"q1":51.1,"md":54.0,"q3":57.6,"hi":63.4},
      {"p":"A","g":"IND","lo":35.6,"q1":47.8,"md":51.1,"q3":56.1,"hi":67.2},
      {"p":"A","g":"TEJ","lo":40.2,"q1":47.8,"md":51.0,"q3":55.8,"hi":66.3},
      {"p":"A","g":"TRJ","lo":38.5,"q1":53.3,"md":58.7,"q3":68.0,"hi":85.4},
      {"p":"B","g":"ADMIX","lo":5.2,"q1":6.39,"md":7.0,"q3":7.59,"hi":9.2},
      {"p":"B","g":"ARO","lo":6.22,"q1":6.3,"md":6.6,"q3":7.19,"hi":7.79},
      {"p":"B","g":"AUS","lo":5.6,"q1":6.2,"md":6.41,"q3":6.9,"hi":7.39},
      {"p":"B","g":"IND","lo":5.06,"q1":5.99,"md":6.39,"q3":6.79,"hi":7.97},
      {"p":"B","g":"TEJ","lo":4.58,"q1":5.6,"md":5.99,"q3":6.79,"hi":8.48},
      {"p":"B","g":"TRJ","lo":4.8,"q1":6.19,"md":6.81,"q3":7.48,"hi":8.99},
      {"p":"C","g":"ADMIX","lo":92.3,"q1":102.9,"md":108.9,"q3":119.6,"hi":135.4},
      {"p":"C","g":"ARO","lo":91,"q1":98.5,"md":111.8,"q3":126.2,"hi":128.5},
      {"p":"C","g":"AUS","lo":91.2,"q1":108.8,"md":115.8,"q3":122.5,"hi":137.9},
      {"p":"C","g":"IND","lo":86.8,"q1":98.8,"md":105.1,"q3":112.8,"hi":130.8},
      {"p":"C","g":"TEJ","lo":95.2,"q1":110.2,"md":117.2,"q3":122.7,"hi":136.2},
      {"p":"C","g":"TRJ","lo":87.9,"q1":102.9,"md":108.7,"q3":116.4,"hi":132.2},
      {"p":"D","g":"ADMIX","lo":73.1,"q1":104.3,"md":115.6,"q3":128.7,"hi":162.7},
      {"p":"D","g":"ARO","lo":96.3,"q1":110.5,"md":116.7,"q3":122.5,"hi":138.4},
      {"p":"D","g":"AUS","lo":89.4,"q1":105.6,"md":116,"q3":125.9,"hi":143.8},
      {"p":"D","g":"IND","lo":59.3,"q1":91.7,"md":102,"q3":114.8,"hi":133},
      {"p":"D","g":"TEJ","lo":65.4,"q1":80.9,"md":89.7,"q3":102.5,"hi":129},
      {"p":"D","g":"TRJ","lo":71.6,"q1":102.2,"md":114,"q3":124.4,"hi":142.9},
      {"p":"E","g":"ADMIX","lo":61.8,"q1":72,"md":76.1,"q3":82.3,"hi":89.5},
      {"p":"E","g":"ARO","lo":66.6,"q1":69.7,"md":73.9,"q3":77.6,"hi":84.2},
      {"p":"E","g":"AUS","lo":65.6,"q1":73.1,"md":77.8,"q3":82,"hi":90.3},
      {"p":"E","g":"IND","lo":58.3,"q1":68,"md":71.7,"q3":75,"hi":85.3},
      {"p":"E","g":"TEJ","lo":61.3,"q1":67.3,"md":72.1,"q3":75.9,"hi":85},
      {"p":"E","g":"TRJ","lo":62.1,"q1":73.9,"md":78.1,"q3":83.6,"hi":96.9},
      {"p":"F","g":"ADMIX","lo":34.2,"q1":41.7,"md":48.1,"q3":53.9,"hi":71.6},
      {"p":"F","g":"ARO","lo":36.6,"q1":40.2,"md":48.9,"q3":54,"hi":59.6},
      {"p":"F","g":"AUS","lo":31.1,"q1":40.8,"md":44.3,"q3":49.7,"hi":58.8},
      {"p":"F","g":"IND","lo":28.9,"q1":38.9,"md":42.8,"q3":46.4,"hi":57.3},
      {"p":"F","g":"TEJ","lo":29.7,"q1":36.7,"md":41.8,"q3":46.6,"hi":61.2},
      {"p":"F","g":"TRJ","lo":30.4,"q1":43,"md":50.9,"q3":56.1,"hi":74.5},
      {"p":"G","g":"ADMIX","lo":19.9,"q1":24,"md":27.1,"q3":29.9,"hi":37.7},
      {"p":"G","g":"ARO","lo":23,"q1":23.7,"md":25.8,"q3":27.4,"hi":30.8},
      {"p":"G","g":"AUS","lo":20.7,"q1":25,"md":26.9,"q3":29.3,"hi":33.7},
      {"p":"G","g":"IND","lo":19,"q1":22.5,"md":23.8,"q3":26.4,"hi":31.2},
      {"p":"G","g":"TEJ","lo":20.4,"q1":23.5,"md":25.5,"q3":27.4,"hi":32.9},
      {"p":"G","g":"TRJ","lo":19.4,"q1":25.5,"md":27.7,"q3":30.5,"hi":36.1},
      {"p":"H","g":"ADMIX","lo":3,"q1":4.2,"md":4.9,"q3":7.5,"hi":12.1},
      {"p":"H","g":"ARO","lo":3.5,"q1":3.7,"md":4.1,"q3":4.7,"hi":5.4},
      {"p":"H","g":"AUS","lo":2.5,"q1":3.6,"md":4.1,"q3":5.5,"hi":8},
      {"p":"H","g":"IND","lo":2.7,"q1":3.7,"md":4.5,"q3":6.5,"hi":10.7},
      {"p":"H","g":"TEJ","lo":5,"q1":8.3,"md":10,"q3":11.2,"hi":15.5},
      {"p":"H","g":"TRJ","lo":2.5,"q1":3.6,"md":4,"q3":4.7,"hi":6.8}
    ],
    "out": [
      {"p":"A","g":"AUS","y":68},{"p":"A","g":"AUS","y":39.5},{"p":"A","g":"IND","y":73.1},{"p":"A","g":"IND","y":69.2},{"p":"A","g":"TEJ","y":84.3},{"p":"A","g":"TEJ","y":74.4},{"p":"A","g":"TEJ","y":68.8},{"p":"A","g":"TRJ","y":100.2},{"p":"A","g":"TRJ","y":91.5},{"p":"A","g":"TRJ","y":90.4},
      {"p":"B","g":"ADMIX","y":10.0},{"p":"B","g":"ADMIX","y":9.61},{"p":"B","g":"ARO","y":9.0},{"p":"B","g":"AUS","y":5.0},{"p":"B","g":"AUS","y":4.8},{"p":"B","g":"IND","y":8.4},{"p":"B","g":"IND","y":8.19},{"p":"B","g":"IND","y":4.8},{"p":"B","g":"TEJ","y":9.2},{"p":"B","g":"TEJ","y":8.79},{"p":"B","g":"TRJ","y":9.81},
      {"p":"C","g":"TEJ","y":91},
      {"p":"D","g":"ARO","y":142.3},{"p":"D","g":"ARO","y":88.6},{"p":"D","g":"AUS","y":72.7},{"p":"D","g":"AUS","y":66.2},{"p":"D","g":"TEJ","y":156.5},{"p":"D","g":"TRJ","y":168},{"p":"D","g":"TRJ","y":158.3},{"p":"D","g":"TRJ","y":68.8},
      {"p":"E","g":"ADMIX","y":99},{"p":"E","g":"IND","y":92.8},{"p":"E","g":"IND","y":90.3},{"p":"E","g":"IND","y":88},{"p":"E","g":"IND","y":53.4},{"p":"E","g":"TEJ","y":89.1},{"p":"E","g":"TRJ","y":107.2},{"p":"E","g":"TRJ","y":98.6},
      {"p":"F","g":"IND","y":61.2},{"p":"F","g":"IND","y":59.9},{"p":"F","g":"TEJ","y":66},{"p":"F","g":"TEJ","y":65.7},{"p":"F","g":"TRJ","y":85.3},{"p":"F","g":"TRJ","y":80.1},
      {"p":"G","g":"AUS","y":36.8},{"p":"G","g":"IND","y":35.2},{"p":"G","g":"IND","y":34},{"p":"G","g":"IND","y":33.1},{"p":"G","g":"TEJ","y":35.4},{"p":"G","g":"TEJ","y":34.2},{"p":"G","g":"TEJ","y":33.8},{"p":"G","g":"TRJ","y":42.3},
      {"p":"H","g":"ADMIX","y":14.2},{"p":"H","g":"ARO","y":6.6},{"p":"H","g":"AUS","y":13.7},{"p":"H","g":"AUS","y":11.2},{"p":"H","g":"AUS","y":10.5},{"p":"H","g":"AUS","y":8.8},{"p":"H","g":"IND","y":12.6},{"p":"H","g":"TEJ","y":16.9},{"p":"H","g":"TEJ","y":16.4},{"p":"H","g":"TEJ","y":3.7},{"p":"H","g":"TEJ","y":3.4},{"p":"H","g":"TEJ","y":3.1},{"p":"H","g":"TEJ","y":2},{"p":"H","g":"TRJ","y":15.8},{"p":"H","g":"TRJ","y":14},{"p":"H","g":"TRJ","y":11.7},{"p":"H","g":"TRJ","y":11.2},{"p":"H","g":"TRJ","y":10.7},{"p":"H","g":"TRJ","y":9.9},{"p":"H","g":"TRJ","y":9},{"p":"H","g":"TRJ","y":7.7},{"p":"H","g":"TRJ","y":0}
    ],
    "mean": [
      {"p":"A","y":56.0},{"p":"B","y":6.57},{"p":"C","y":111.6},{"p":"D","y":106.8},{"p":"E","y":75.2},{"p":"F","y":46.2},{"p":"G","y":26.5},{"p":"H","y":6.2}
    ],
    "br": [
      {"p":"A","a":"TEJ","b":"TRJ","y":120.9,"s":"****"},{"p":"A","a":"IND","b":"TRJ","y":118.9,"s":"****"},{"p":"A","a":"AUS","b":"TRJ","y":115.8,"s":"**"},{"p":"A","a":"ADMIX","b":"TEJ","y":112.8,"s":"***"},{"p":"A","a":"ADMIX","b":"IND","y":109.9,"s":"***"},
      {"p":"B","a":"IND","b":"TRJ","y":11.91,"s":"*"},{"p":"B","a":"ADMIX","b":"TEJ","y":11.71,"s":"****"},{"p":"B","a":"ADMIX","b":"IND","y":11.51,"s":"**"},{"p":"B","a":"ADMIX","b":"AUS","y":11.31,"s":"*"},{"p":"B","a":"TEJ","b":"TRJ","y":11.12,"s":"****"},
      {"p":"C","a":"TEJ","b":"TRJ","y":158.1,"s":"***"},{"p":"C","a":"IND","b":"TEJ","y":156,"s":"****"},{"p":"C","a":"AUS","b":"TRJ","y":153.9,"s":"**"},{"p":"C","a":"AUS","b":"IND","y":151.8,"s":"****"},
      {"p":"D","a":"TEJ","b":"TRJ","y":217.7,"s":"****"},{"p":"D","a":"IND","b":"TRJ","y":212.8,"s":"***"},{"p":"D","a":"IND","b":"TEJ","y":208.6,"s":"***"},{"p":"D","a":"AUS","b":"TEJ","y":203.5,"s":"****"},{"p":"D","a":"AUS","b":"IND","y":199.7,"s":"***"},{"p":"D","a":"ARO","b":"TEJ","y":195.8,"s":"***"},{"p":"D","a":"ADMIX","b":"TEJ","y":190.4,"s":"****"},{"p":"D","a":"ADMIX","b":"IND","y":186.6,"s":"***"},
      {"p":"E","a":"TEJ","b":"TRJ","y":120,"s":"****"},{"p":"E","a":"IND","b":"TRJ","y":118.1,"s":"****"},{"p":"E","a":"AUS","b":"TEJ","y":116.1,"s":"****"},{"p":"E","a":"AUS","b":"IND","y":114.1,"s":"****"},{"p":"E","a":"ADMIX","b":"TEJ","y":112,"s":"**"},{"p":"E","a":"ADMIX","b":"IND","y":110,"s":"**"},
      {"p":"F","a":"TEJ","b":"TRJ","y":102.9,"s":"****"},{"p":"F","a":"IND","b":"TRJ","y":100.9,"s":"****"},{"p":"F","a":"AUS","b":"TRJ","y":99,"s":"**"},{"p":"F","a":"ADMIX","b":"TEJ","y":96.9,"s":"***"},{"p":"F","a":"ADMIX","b":"IND","y":95,"s":"**"},
      {"p":"G","a":"TEJ","b":"TRJ","y":49,"s":"**"},{"p":"G","a":"IND","b":"TRJ","y":47,"s":"****"},{"p":"G","a":"AUS","b":"IND","y":46,"s":"***"},{"p":"G","a":"ADMIX","b":"IND","y":45,"s":"***"},
      {"p":"H","a":"TEJ","b":"TRJ","y":24.4,"s":"****"},{"p":"H","a":"IND","b":"TEJ","y":23.5,"s":"****"},{"p":"H","a":"AUS","b":"TEJ","y":22.5,"s":"****"},{"p":"H","a":"ARO","b":"TEJ","y":21.5,"s":"****"},{"p":"H","a":"ADMIX","b":"TRJ","y":20.5,"s":"**"},{"p":"H","a":"ADMIX","b":"TEJ","y":19.5,"s":"****"}
    ]
  },
  "concat": [
    {
      "width": 711, "height": 422, "title": {"text": "A"},
      "layer": [
        {"data": {"name": "viol"}, "transform": [{"filter": "datum.p=='A'"}, {"calculate": "indexof(['ADMIX','ARO','AUS','IND','TEJ','TRJ'],datum.g)+1", "as": "pos"}, {"calculate": "datum.pos-datum.w", "as": "xl"}, {"calculate": "datum.pos+datum.w", "as": "xr"}],
         "mark": {"type": "area", "orient": "horizontal", "interpolate": "monotone", "stroke": "black", "strokeWidth": 1.1, "opacity": 1},
         "encoding": {
           "x": {"field": "xl", "type": "quantitative", "title": null, "scale": {"domain": [0.4, 6.6], "nice": false, "zero": false}, "axis": {"values": [1,2,3,4,5,6], "labelOffset": 15, "labelExpr": "['ADMIX','ARO','AUS','IND','TEJ','TRJ'][datum.value-1]"}},
           "x2": {"field": "xr"},
           "y": {"field": "y", "type": "quantitative", "title": "LT", "scale": {"domain": [23, 125.6], "nice": false, "zero": false}, "axis": {"values": [25,37.5,50,62.5,75,87.5,100,112.5,125], "labelExpr": "datum.value % 25 == 0 ? datum.label : ''", "tickOpacity": {"condition": {"test": "datum.value % 25 == 0", "value": 1}, "value": 0}, "gridWidth": {"condition": {"test": "datum.value % 25 == 0", "value": 1.4}, "value": 0.7}}},
           "color": {"field": "g", "type": "nominal", "legend": null}}},
        {"data": {"name": "box"}, "transform": [{"filter": "datum.p=='A'"}, {"calculate": "indexof(['ADMIX','ARO','AUS','IND','TEJ','TRJ'],datum.g)+1", "as": "pos"}, {"calculate": "datum.pos-0.1", "as": "bl"}, {"calculate": "datum.pos+0.1", "as": "br"}],
         "layer": [
           {"mark": {"type": "rule", "color": "black", "strokeWidth": 1.1}, "encoding": {"x": {"field": "pos", "type": "quantitative"}, "y": {"field": "lo", "type": "quantitative"}, "y2": {"field": "hi"}}},
           {"mark": {"type": "rect", "fill": "white", "stroke": "black", "strokeWidth": 1.2}, "encoding": {"x": {"field": "bl", "type": "quantitative"}, "x2": {"field": "br"}, "y": {"field": "q1", "type": "quantitative"}, "y2": {"field": "q3"}}},
           {"mark": {"type": "rule", "color": "black", "strokeWidth": 1.4}, "encoding": {"x": {"field": "bl", "type": "quantitative"}, "x2": {"field": "br"}, "y": {"field": "md", "type": "quantitative"}}}
         ]},
        {"data": {"name": "out"}, "transform": [{"filter": "datum.p=='A'"}, {"calculate": "indexof(['ADMIX','ARO','AUS','IND','TEJ','TRJ'],datum.g)+1", "as": "pos"}],
         "mark": {"type": "circle", "color": "black", "opacity": 1, "size": 24}, "encoding": {"x": {"field": "pos", "type": "quantitative"}, "y": {"field": "y", "type": "quantitative"}}},
        {"data": {"name": "mean"}, "transform": [{"filter": "datum.p=='A'"}],
         "mark": {"type": "rule", "color": "#333", "strokeWidth": 1.6, "strokeDash": [8, 6]}, "encoding": {"y": {"field": "y", "type": "quantitative"}}},
        {"data": {"name": "br"}, "transform": [{"filter": "datum.p=='A'"}, {"calculate": "indexof(['ADMIX','ARO','AUS','IND','TEJ','TRJ'],datum.a)+1", "as": "xa"}, {"calculate": "indexof(['ADMIX','ARO','AUS','IND','TEJ','TRJ'],datum.b)+1", "as": "xb"}, {"calculate": "(datum.xa+datum.xb)/2", "as": "xm"}],
         "layer": [
           {"mark": {"type": "rule", "color": "#222", "strokeWidth": 1.3}, "encoding": {"x": {"field": "xa", "type": "quantitative"}, "x2": {"field": "xb"}, "y": {"field": "y", "type": "quantitative"}}},
           {"transform": [{"fold": ["xa", "xb"], "as": ["k", "xe"]}], "mark": {"type": "tick", "orient": "vertical", "size": 6, "thickness": 1.3, "yOffset": 3, "color": "#222"}, "encoding": {"x": {"field": "xe", "type": "quantitative"}, "y": {"field": "y", "type": "quantitative"}}},
           {"mark": {"type": "text", "baseline": "bottom", "dy": -1, "fontSize": 12, "color": "#222"}, "encoding": {"x": {"field": "xm", "type": "quantitative"}, "y": {"field": "y", "type": "quantitative"}, "text": {"field": "s"}}}
         ]}
      ]
    },
    {
      "width": 711, "height": 422, "title": {"text": "B"},
      "layer": [
        {"data": {"name": "viol"}, "transform": [{"filter": "datum.p=='B'"}, {"calculate": "indexof(['ADMIX','ARO','AUS','IND','TEJ','TRJ'],datum.g)+1", "as": "pos"}, {"calculate": "datum.pos-datum.w", "as": "xl"}, {"calculate": "datum.pos+datum.w", "as": "xr"}],
         "mark": {"type": "area", "orient": "horizontal", "interpolate": "monotone", "stroke": "black", "strokeWidth": 1.1, "opacity": 1},
         "encoding": {
           "x": {"field": "xl", "type": "quantitative", "title": null, "scale": {"domain": [0.4, 6.6], "nice": false, "zero": false}, "axis": {"values": [1,2,3,4,5,6], "labelOffset": 15, "labelExpr": "['ADMIX','ARO','AUS','IND','TEJ','TRJ'][datum.value-1]"}},
           "x2": {"field": "xr"},
           "y": {"field": "y", "type": "quantitative", "title": "ML", "scale": {"domain": [3.33, 12.35], "nice": false, "zero": false}, "axis": {"values": [3.75,5,6.25,7.5,8.75,10,11.25], "labelExpr": "datum.value % 2.5 == 0 ? format(datum.value, '.1f') : ''", "tickOpacity": {"condition": {"test": "datum.value % 2.5 == 0", "value": 1}, "value": 0}, "gridWidth": {"condition": {"test": "datum.value % 2.5 == 0", "value": 1.4}, "value": 0.7}}},
           "color": {"field": "g", "type": "nominal", "legend": null}}},
        {"data": {"name": "box"}, "transform": [{"filter": "datum.p=='B'"}, {"calculate": "indexof(['ADMIX','ARO','AUS','IND','TEJ','TRJ'],datum.g)+1", "as": "pos"}, {"calculate": "datum.pos-0.1", "as": "bl"}, {"calculate": "datum.pos+0.1", "as": "br"}],
         "layer": [
           {"mark": {"type": "rule", "color": "black", "strokeWidth": 1.1}, "encoding": {"x": {"field": "pos", "type": "quantitative"}, "y": {"field": "lo", "type": "quantitative"}, "y2": {"field": "hi"}}},
           {"mark": {"type": "rect", "fill": "white", "stroke": "black", "strokeWidth": 1.2}, "encoding": {"x": {"field": "bl", "type": "quantitative"}, "x2": {"field": "br"}, "y": {"field": "q1", "type": "quantitative"}, "y2": {"field": "q3"}}},
           {"mark": {"type": "rule", "color": "black", "strokeWidth": 1.4}, "encoding": {"x": {"field": "bl", "type": "quantitative"}, "x2": {"field": "br"}, "y": {"field": "md", "type": "quantitative"}}}
         ]},
        {"data": {"name": "out"}, "transform": [{"filter": "datum.p=='B'"}, {"calculate": "indexof(['ADMIX','ARO','AUS','IND','TEJ','TRJ'],datum.g)+1", "as": "pos"}],
         "mark": {"type": "circle", "color": "black", "opacity": 1, "size": 24}, "encoding": {"x": {"field": "pos", "type": "quantitative"}, "y": {"field": "y", "type": "quantitative"}}},
        {"data": {"name": "mean"}, "transform": [{"filter": "datum.p=='B'"}],
         "mark": {"type": "rule", "color": "#333", "strokeWidth": 1.6, "strokeDash": [8, 6]}, "encoding": {"y": {"field": "y", "type": "quantitative"}}},
        {"data": {"name": "br"}, "transform": [{"filter": "datum.p=='B'"}, {"calculate": "indexof(['ADMIX','ARO','AUS','IND','TEJ','TRJ'],datum.a)+1", "as": "xa"}, {"calculate": "indexof(['ADMIX','ARO','AUS','IND','TEJ','TRJ'],datum.b)+1", "as": "xb"}, {"calculate": "(datum.xa+datum.xb)/2", "as": "xm"}],
         "layer": [
           {"mark": {"type": "rule", "color": "#222", "strokeWidth": 1.3}, "encoding": {"x": {"field": "xa", "type": "quantitative"}, "x2": {"field": "xb"}, "y": {"field": "y", "type": "quantitative"}}},
           {"transform": [{"fold": ["xa", "xb"], "as": ["k", "xe"]}], "mark": {"type": "tick", "orient": "vertical", "size": 6, "thickness": 1.3, "yOffset": 3, "color": "#222"}, "encoding": {"x": {"field": "xe", "type": "quantitative"}, "y": {"field": "y", "type": "quantitative"}}},
           {"mark": {"type": "text", "baseline": "bottom", "dy": -1, "fontSize": 12, "color": "#222"}, "encoding": {"x": {"field": "xm", "type": "quantitative"}, "y": {"field": "y", "type": "quantitative"}, "text": {"field": "s"}}}
         ]}
      ]
    },
    {
      "width": 711, "height": 422, "title": {"text": "C"},
      "layer": [
        {"data": {"name": "viol"}, "transform": [{"filter": "datum.p=='C'"}, {"calculate": "indexof(['ADMIX','ARO','AUS','IND','TEJ','TRJ'],datum.g)+1", "as": "pos"}, {"calculate": "datum.pos-datum.w", "as": "xl"}, {"calculate": "datum.pos+datum.w", "as": "xr"}],
         "mark": {"type": "area", "orient": "horizontal", "interpolate": "monotone", "stroke": "black", "strokeWidth": 1.1, "opacity": 1},
         "encoding": {
           "x": {"field": "xl", "type": "quantitative", "title": null, "scale": {"domain": [0.4, 6.6], "nice": false, "zero": false}, "axis": {"values": [1,2,3,4,5,6], "labelOffset": 3, "labelExpr": "['ADMIX','ARO','AUS','IND','TEJ','TRJ'][datum.value-1]"}},
           "x2": {"field": "xr"},
           "y": {"field": "y", "type": "quantitative", "title": "IVD", "scale": {"domain": [64.5, 162.5], "nice": false, "zero": false}, "axis": {"values": [70,80,90,100,110,120,130,140,150,160], "labelOffset": 5, "labelExpr": "datum.value % 20 == 0 ? datum.label : ''", "tickOpacity": {"condition": {"test": "datum.value % 20 == 0", "value": 1}, "value": 0}, "gridWidth": {"condition": {"test": "datum.value % 20 == 0", "value": 1.4}, "value": 0.7}}},
           "color": {"field": "g", "type": "nominal", "legend": null}}},
        {"data": {"name": "box"}, "transform": [{"filter": "datum.p=='C'"}, {"calculate": "indexof(['ADMIX','ARO','AUS','IND','TEJ','TRJ'],datum.g)+1", "as": "pos"}, {"calculate": "datum.pos-0.1", "as": "bl"}, {"calculate": "datum.pos+0.1", "as": "br"}],
         "layer": [
           {"mark": {"type": "rule", "color": "black", "strokeWidth": 1.1}, "encoding": {"x": {"field": "pos", "type": "quantitative"}, "y": {"field": "lo", "type": "quantitative"}, "y2": {"field": "hi"}}},
           {"mark": {"type": "rect", "fill": "white", "stroke": "black", "strokeWidth": 1.2}, "encoding": {"x": {"field": "bl", "type": "quantitative"}, "x2": {"field": "br"}, "y": {"field": "q1", "type": "quantitative"}, "y2": {"field": "q3"}}},
           {"mark": {"type": "rule", "color": "black", "strokeWidth": 1.4}, "encoding": {"x": {"field": "bl", "type": "quantitative"}, "x2": {"field": "br"}, "y": {"field": "md", "type": "quantitative"}}}
         ]},
        {"data": {"name": "out"}, "transform": [{"filter": "datum.p=='C'"}, {"calculate": "indexof(['ADMIX','ARO','AUS','IND','TEJ','TRJ'],datum.g)+1", "as": "pos"}],
         "mark": {"type": "circle", "color": "black", "opacity": 1, "size": 24}, "encoding": {"x": {"field": "pos", "type": "quantitative"}, "y": {"field": "y", "type": "quantitative"}}},
        {"data": {"name": "mean"}, "transform": [{"filter": "datum.p=='C'"}],
         "mark": {"type": "rule", "color": "#333", "strokeWidth": 1.6, "strokeDash": [8, 6]}, "encoding": {"y": {"field": "y", "type": "quantitative"}}},
        {"data": {"name": "br"}, "transform": [{"filter": "datum.p=='C'"}, {"calculate": "indexof(['ADMIX','ARO','AUS','IND','TEJ','TRJ'],datum.a)+1", "as": "xa"}, {"calculate": "indexof(['ADMIX','ARO','AUS','IND','TEJ','TRJ'],datum.b)+1", "as": "xb"}, {"calculate": "(datum.xa+datum.xb)/2", "as": "xm"}],
         "layer": [
           {"mark": {"type": "rule", "color": "#222", "strokeWidth": 1.3}, "encoding": {"x": {"field": "xa", "type": "quantitative"}, "x2": {"field": "xb"}, "y": {"field": "y", "type": "quantitative"}}},
           {"transform": [{"fold": ["xa", "xb"], "as": ["k", "xe"]}], "mark": {"type": "tick", "orient": "vertical", "size": 6, "thickness": 1.3, "yOffset": 3, "color": "#222"}, "encoding": {"x": {"field": "xe", "type": "quantitative"}, "y": {"field": "y", "type": "quantitative"}}},
           {"mark": {"type": "text", "baseline": "bottom", "dy": -1, "fontSize": 12, "color": "#222"}, "encoding": {"x": {"field": "xm", "type": "quantitative"}, "y": {"field": "y", "type": "quantitative"}, "text": {"field": "s"}}}
         ]}
      ]
    },
    {
      "width": 711, "height": 422, "title": {"text": "D"},
      "layer": [
        {"data": {"name": "viol"}, "transform": [{"filter": "datum.p=='D'"}, {"calculate": "indexof(['ADMIX','ARO','AUS','IND','TEJ','TRJ'],datum.g)+1", "as": "pos"}, {"calculate": "datum.pos-datum.w", "as": "xl"}, {"calculate": "datum.pos+datum.w", "as": "xr"}],
         "mark": {"type": "area", "orient": "horizontal", "interpolate": "monotone", "stroke": "black", "strokeWidth": 1.1, "opacity": 1},
         "encoding": {
           "x": {"field": "xl", "type": "quantitative", "title": null, "scale": {"domain": [0.4, 6.6], "nice": false, "zero": false}, "axis": {"values": [1,2,3,4,5,6], "labelOffset": 15, "labelExpr": "['ADMIX','ARO','AUS','IND','TEJ','TRJ'][datum.value-1]"}},
           "x2": {"field": "xr"},
           "y": {"field": "y", "type": "quantitative", "title": "MJVT", "scale": {"domain": [33.2, 226.7], "nice": false, "zero": false}, "axis": {"values": [50,75,100,125,150,175,200,225], "labelExpr": "datum.value % 50 == 0 ? datum.label : ''", "tickOpacity": {"condition": {"test": "datum.value % 50 == 0", "value": 1}, "value": 0}, "gridWidth": {"condition": {"test": "datum.value % 50 == 0", "value": 1.4}, "value": 0.7}}},
           "color": {"field": "g", "type": "nominal", "legend": null}}},
        {"data": {"name": "box"}, "transform": [{"filter": "datum.p=='D'"}, {"calculate": "indexof(['ADMIX','ARO','AUS','IND','TEJ','TRJ'],datum.g)+1", "as": "pos"}, {"calculate": "datum.pos-0.1", "as": "bl"}, {"calculate": "datum.pos+0.1", "as": "br"}],
         "layer": [
           {"mark": {"type": "rule", "color": "black", "strokeWidth": 1.1}, "encoding": {"x": {"field": "pos", "type": "quantitative"}, "y": {"field": "lo", "type": "quantitative"}, "y2": {"field": "hi"}}},
           {"mark": {"type": "rect", "fill": "white", "stroke": "black", "strokeWidth": 1.2}, "encoding": {"x": {"field": "bl", "type": "quantitative"}, "x2": {"field": "br"}, "y": {"field": "q1", "type": "quantitative"}, "y2": {"field": "q3"}}},
           {"mark": {"type": "rule", "color": "black", "strokeWidth": 1.4}, "encoding": {"x": {"field": "bl", "type": "quantitative"}, "x2": {"field": "br"}, "y": {"field": "md", "type": "quantitative"}}}
         ]},
        {"data": {"name": "out"}, "transform": [{"filter": "datum.p=='D'"}, {"calculate": "indexof(['ADMIX','ARO','AUS','IND','TEJ','TRJ'],datum.g)+1", "as": "pos"}],
         "mark": {"type": "circle", "color": "black", "opacity": 1, "size": 24}, "encoding": {"x": {"field": "pos", "type": "quantitative"}, "y": {"field": "y", "type": "quantitative"}}},
        {"data": {"name": "mean"}, "transform": [{"filter": "datum.p=='D'"}],
         "mark": {"type": "rule", "color": "#333", "strokeWidth": 1.6, "strokeDash": [8, 6]}, "encoding": {"y": {"field": "y", "type": "quantitative"}}},
        {"data": {"name": "br"}, "transform": [{"filter": "datum.p=='D'"}, {"calculate": "indexof(['ADMIX','ARO','AUS','IND','TEJ','TRJ'],datum.a)+1", "as": "xa"}, {"calculate": "indexof(['ADMIX','ARO','AUS','IND','TEJ','TRJ'],datum.b)+1", "as": "xb"}, {"calculate": "(datum.xa+datum.xb)/2", "as": "xm"}],
         "layer": [
           {"mark": {"type": "rule", "color": "#222", "strokeWidth": 1.3}, "encoding": {"x": {"field": "xa", "type": "quantitative"}, "x2": {"field": "xb"}, "y": {"field": "y", "type": "quantitative"}}},
           {"transform": [{"fold": ["xa", "xb"], "as": ["k", "xe"]}], "mark": {"type": "tick", "orient": "vertical", "size": 6, "thickness": 1.3, "yOffset": 3, "color": "#222"}, "encoding": {"x": {"field": "xe", "type": "quantitative"}, "y": {"field": "y", "type": "quantitative"}}},
           {"mark": {"type": "text", "baseline": "bottom", "dy": -1, "fontSize": 12, "color": "#222"}, "encoding": {"x": {"field": "xm", "type": "quantitative"}, "y": {"field": "y", "type": "quantitative"}, "text": {"field": "s"}}}
         ]}
      ]
    },
    {
      "width": 711, "height": 422, "title": {"text": "E"},
      "layer": [
        {"data": {"name": "viol"}, "transform": [{"filter": "datum.p=='E'"}, {"calculate": "indexof(['ADMIX','ARO','AUS','IND','TEJ','TRJ'],datum.g)+1", "as": "pos"}, {"calculate": "datum.pos-datum.w", "as": "xl"}, {"calculate": "datum.pos+datum.w", "as": "xr"}],
         "mark": {"type": "area", "orient": "horizontal", "interpolate": "monotone", "stroke": "black", "strokeWidth": 1.1, "opacity": 1},
         "encoding": {
           "x": {"field": "xl", "type": "quantitative", "title": null, "scale": {"domain": [0.4, 6.6], "nice": false, "zero": false}, "axis": {"values": [1,2,3,4,5,6], "labelOffset": 15, "labelExpr": "['ADMIX','ARO','AUS','IND','TEJ','TRJ'][datum.value-1]"}},
           "x2": {"field": "xr"},
           "y": {"field": "y", "type": "quantitative", "title": "MJVW", "scale": {"domain": [43.6, 123.8], "nice": false, "zero": false}, "axis": {"values": [50,60,70,80,90,100,110,120], "labelExpr": "datum.value % 20 == 0 ? datum.label : ''", "tickOpacity": {"condition": {"test": "datum.value % 20 == 0", "value": 1}, "value": 0}, "gridWidth": {"condition": {"test": "datum.value % 20 == 0", "value": 1.4}, "value": 0.7}}},
           "color": {"field": "g", "type": "nominal", "legend": null}}},
        {"data": {"name": "box"}, "transform": [{"filter": "datum.p=='E'"}, {"calculate": "indexof(['ADMIX','ARO','AUS','IND','TEJ','TRJ'],datum.g)+1", "as": "pos"}, {"calculate": "datum.pos-0.1", "as": "bl"}, {"calculate": "datum.pos+0.1", "as": "br"}],
         "layer": [
           {"mark": {"type": "rule", "color": "black", "strokeWidth": 1.1}, "encoding": {"x": {"field": "pos", "type": "quantitative"}, "y": {"field": "lo", "type": "quantitative"}, "y2": {"field": "hi"}}},
           {"mark": {"type": "rect", "fill": "white", "stroke": "black", "strokeWidth": 1.2}, "encoding": {"x": {"field": "bl", "type": "quantitative"}, "x2": {"field": "br"}, "y": {"field": "q1", "type": "quantitative"}, "y2": {"field": "q3"}}},
           {"mark": {"type": "rule", "color": "black", "strokeWidth": 1.4}, "encoding": {"x": {"field": "bl", "type": "quantitative"}, "x2": {"field": "br"}, "y": {"field": "md", "type": "quantitative"}}}
         ]},
        {"data": {"name": "out"}, "transform": [{"filter": "datum.p=='E'"}, {"calculate": "indexof(['ADMIX','ARO','AUS','IND','TEJ','TRJ'],datum.g)+1", "as": "pos"}],
         "mark": {"type": "circle", "color": "black", "opacity": 1, "size": 24}, "encoding": {"x": {"field": "pos", "type": "quantitative"}, "y": {"field": "y", "type": "quantitative"}}},
        {"data": {"name": "mean"}, "transform": [{"filter": "datum.p=='E'"}],
         "mark": {"type": "rule", "color": "#333", "strokeWidth": 1.6, "strokeDash": [8, 6]}, "encoding": {"y": {"field": "y", "type": "quantitative"}}},
        {"data": {"name": "br"}, "transform": [{"filter": "datum.p=='E'"}, {"calculate": "indexof(['ADMIX','ARO','AUS','IND','TEJ','TRJ'],datum.a)+1", "as": "xa"}, {"calculate": "indexof(['ADMIX','ARO','AUS','IND','TEJ','TRJ'],datum.b)+1", "as": "xb"}, {"calculate": "(datum.xa+datum.xb)/2", "as": "xm"}],
         "layer": [
           {"mark": {"type": "rule", "color": "#222", "strokeWidth": 1.3}, "encoding": {"x": {"field": "xa", "type": "quantitative"}, "x2": {"field": "xb"}, "y": {"field": "y", "type": "quantitative"}}},
           {"transform": [{"fold": ["xa", "xb"], "as": ["k", "xe"]}], "mark": {"type": "tick", "orient": "vertical", "size": 6, "thickness": 1.3, "yOffset": 3, "color": "#222"}, "encoding": {"x": {"field": "xe", "type": "quantitative"}, "y": {"field": "y", "type": "quantitative"}}},
           {"mark": {"type": "text", "baseline": "bottom", "dy": -1, "fontSize": 12, "color": "#222"}, "encoding": {"x": {"field": "xm", "type": "quantitative"}, "y": {"field": "y", "type": "quantitative"}, "text": {"field": "s"}}}
         ]}
      ]
    },
    {
      "width": 711, "height": 422, "title": {"text": "F"},
      "layer": [
        {"data": {"name": "viol"}, "transform": [{"filter": "datum.p=='F'"}, {"calculate": "indexof(['ADMIX','ARO','AUS','IND','TEJ','TRJ'],datum.g)+1", "as": "pos"}, {"calculate": "datum.pos-datum.w", "as": "xl"}, {"calculate": "datum.pos+datum.w", "as": "xr"}],
         "mark": {"type": "area", "orient": "horizontal", "interpolate": "monotone", "stroke": "black", "strokeWidth": 1.1, "opacity": 1},
         "encoding": {
           "x": {"field": "xl", "type": "quantitative", "title": null, "scale": {"domain": [0.4, 6.6], "nice": false, "zero": false}, "axis": {"values": [1,2,3,4,5,6], "labelOffset": 12, "labelExpr": "['ADMIX','ARO','AUS','IND','TEJ','TRJ'][datum.value-1]"}},
           "x2": {"field": "xr"},
           "y": {"field": "y", "type": "quantitative", "title": "MNVT", "scale": {"domain": [15.6, 107.3], "nice": false, "zero": false}, "axis": {"values": [20,30,40,50,60,70,80,90,100], "labelExpr": "datum.value % 20 == 0 ? datum.label : ''", "tickOpacity": {"condition": {"test": "datum.value % 20 == 0", "value": 1}, "value": 0}, "gridWidth": {"condition": {"test": "datum.value % 20 == 0", "value": 1.4}, "value": 0.7}}},
           "color": {"field": "g", "type": "nominal", "legend": null}}},
        {"data": {"name": "box"}, "transform": [{"filter": "datum.p=='F'"}, {"calculate": "indexof(['ADMIX','ARO','AUS','IND','TEJ','TRJ'],datum.g)+1", "as": "pos"}, {"calculate": "datum.pos-0.1", "as": "bl"}, {"calculate": "datum.pos+0.1", "as": "br"}],
         "layer": [
           {"mark": {"type": "rule", "color": "black", "strokeWidth": 1.1}, "encoding": {"x": {"field": "pos", "type": "quantitative"}, "y": {"field": "lo", "type": "quantitative"}, "y2": {"field": "hi"}}},
           {"mark": {"type": "rect", "fill": "white", "stroke": "black", "strokeWidth": 1.2}, "encoding": {"x": {"field": "bl", "type": "quantitative"}, "x2": {"field": "br"}, "y": {"field": "q1", "type": "quantitative"}, "y2": {"field": "q3"}}},
           {"mark": {"type": "rule", "color": "black", "strokeWidth": 1.4}, "encoding": {"x": {"field": "bl", "type": "quantitative"}, "x2": {"field": "br"}, "y": {"field": "md", "type": "quantitative"}}}
         ]},
        {"data": {"name": "out"}, "transform": [{"filter": "datum.p=='F'"}, {"calculate": "indexof(['ADMIX','ARO','AUS','IND','TEJ','TRJ'],datum.g)+1", "as": "pos"}],
         "mark": {"type": "circle", "color": "black", "opacity": 1, "size": 24}, "encoding": {"x": {"field": "pos", "type": "quantitative"}, "y": {"field": "y", "type": "quantitative"}}},
        {"data": {"name": "mean"}, "transform": [{"filter": "datum.p=='F'"}],
         "mark": {"type": "rule", "color": "#333", "strokeWidth": 1.6, "strokeDash": [8, 6]}, "encoding": {"y": {"field": "y", "type": "quantitative"}}},
        {"data": {"name": "br"}, "transform": [{"filter": "datum.p=='F'"}, {"calculate": "indexof(['ADMIX','ARO','AUS','IND','TEJ','TRJ'],datum.a)+1", "as": "xa"}, {"calculate": "indexof(['ADMIX','ARO','AUS','IND','TEJ','TRJ'],datum.b)+1", "as": "xb"}, {"calculate": "(datum.xa+datum.xb)/2", "as": "xm"}],
         "layer": [
           {"mark": {"type": "rule", "color": "#222", "strokeWidth": 1.3}, "encoding": {"x": {"field": "xa", "type": "quantitative"}, "x2": {"field": "xb"}, "y": {"field": "y", "type": "quantitative"}}},
           {"transform": [{"fold": ["xa", "xb"], "as": ["k", "xe"]}], "mark": {"type": "tick", "orient": "vertical", "size": 6, "thickness": 1.3, "yOffset": 3, "color": "#222"}, "encoding": {"x": {"field": "xe", "type": "quantitative"}, "y": {"field": "y", "type": "quantitative"}}},
           {"mark": {"type": "text", "baseline": "bottom", "dy": -1, "fontSize": 12, "color": "#222"}, "encoding": {"x": {"field": "xm", "type": "quantitative"}, "y": {"field": "y", "type": "quantitative"}, "text": {"field": "s"}}}
         ]}
      ]
    },
    {
      "width": 711, "height": 422, "title": {"text": "G"},
      "layer": [
        {"data": {"name": "viol"}, "transform": [{"filter": "datum.p=='G'"}, {"calculate": "indexof(['ADMIX','ARO','AUS','IND','TEJ','TRJ'],datum.g)+1", "as": "pos"}, {"calculate": "datum.pos-datum.w", "as": "xl"}, {"calculate": "datum.pos+datum.w", "as": "xr"}],
         "mark": {"type": "area", "orient": "horizontal", "interpolate": "monotone", "stroke": "black", "strokeWidth": 1.1, "opacity": 1},
         "encoding": {
           "x": {"field": "xl", "type": "quantitative", "title": null, "scale": {"domain": [0.4, 6.6], "nice": false, "zero": false}, "axis": {"values": [1,2,3,4,5,6], "labelOffset": 14, "labelExpr": "['ADMIX','ARO','AUS','IND','TEJ','TRJ'][datum.value-1]"}},
           "x2": {"field": "xr"},
           "y": {"field": "y", "type": "quantitative", "title": "MNVW", "scale": {"domain": [13.0, 50.75], "nice": false, "zero": false}, "axis": {"values": [15,20,25,30,35,40,45,50], "labelExpr": "datum.value % 10 == 0 ? datum.label : ''", "tickOpacity": {"condition": {"test": "datum.value % 10 == 0", "value": 1}, "value": 0}, "gridWidth": {"condition": {"test": "datum.value % 10 == 0", "value": 1.4}, "value": 0.7}}},
           "color": {"field": "g", "type": "nominal", "legend": null}}},
        {"data": {"name": "box"}, "transform": [{"filter": "datum.p=='G'"}, {"calculate": "indexof(['ADMIX','ARO','AUS','IND','TEJ','TRJ'],datum.g)+1", "as": "pos"}, {"calculate": "datum.pos-0.1", "as": "bl"}, {"calculate": "datum.pos+0.1", "as": "br"}],
         "layer": [
           {"mark": {"type": "rule", "color": "black", "strokeWidth": 1.1}, "encoding": {"x": {"field": "pos", "type": "quantitative"}, "y": {"field": "lo", "type": "quantitative"}, "y2": {"field": "hi"}}},
           {"mark": {"type": "rect", "fill": "white", "stroke": "black", "strokeWidth": 1.2}, "encoding": {"x": {"field": "bl", "type": "quantitative"}, "x2": {"field": "br"}, "y": {"field": "q1", "type": "quantitative"}, "y2": {"field": "q3"}}},
           {"mark": {"type": "rule", "color": "black", "strokeWidth": 1.4}, "encoding": {"x": {"field": "bl", "type": "quantitative"}, "x2": {"field": "br"}, "y": {"field": "md", "type": "quantitative"}}}
         ]},
        {"data": {"name": "out"}, "transform": [{"filter": "datum.p=='G'"}, {"calculate": "indexof(['ADMIX','ARO','AUS','IND','TEJ','TRJ'],datum.g)+1", "as": "pos"}],
         "mark": {"type": "circle", "color": "black", "opacity": 1, "size": 24}, "encoding": {"x": {"field": "pos", "type": "quantitative"}, "y": {"field": "y", "type": "quantitative"}}},
        {"data": {"name": "mean"}, "transform": [{"filter": "datum.p=='G'"}],
         "mark": {"type": "rule", "color": "#333", "strokeWidth": 1.6, "strokeDash": [8, 6]}, "encoding": {"y": {"field": "y", "type": "quantitative"}}},
        {"data": {"name": "br"}, "transform": [{"filter": "datum.p=='G'"}, {"calculate": "indexof(['ADMIX','ARO','AUS','IND','TEJ','TRJ'],datum.a)+1", "as": "xa"}, {"calculate": "indexof(['ADMIX','ARO','AUS','IND','TEJ','TRJ'],datum.b)+1", "as": "xb"}, {"calculate": "(datum.xa+datum.xb)/2", "as": "xm"}],
         "layer": [
           {"mark": {"type": "rule", "color": "#222", "strokeWidth": 1.3}, "encoding": {"x": {"field": "xa", "type": "quantitative"}, "x2": {"field": "xb"}, "y": {"field": "y", "type": "quantitative"}}},
           {"transform": [{"fold": ["xa", "xb"], "as": ["k", "xe"]}], "mark": {"type": "tick", "orient": "vertical", "size": 6, "thickness": 1.3, "yOffset": 3, "color": "#222"}, "encoding": {"x": {"field": "xe", "type": "quantitative"}, "y": {"field": "y", "type": "quantitative"}}},
           {"mark": {"type": "text", "baseline": "bottom", "dy": -1, "fontSize": 12, "color": "#222"}, "encoding": {"x": {"field": "xm", "type": "quantitative"}, "y": {"field": "y", "type": "quantitative"}, "text": {"field": "s"}}}
         ]}
      ]
    },
    {
      "width": 711, "height": 422, "title": {"text": "H"},
      "layer": [
        {"data": {"name": "viol"}, "transform": [{"filter": "datum.p=='H'"}, {"calculate": "indexof(['ADMIX','ARO','AUS','IND','TEJ','TRJ'],datum.g)+1", "as": "pos"}, {"calculate": "datum.pos-datum.w", "as": "xl"}, {"calculate": "datum.pos+datum.w", "as": "xr"}],
         "mark": {"type": "area", "orient": "horizontal", "interpolate": "monotone", "stroke": "black", "strokeWidth": 1.1, "opacity": 1},
         "encoding": {
           "x": {"field": "xl", "type": "quantitative", "title": null, "scale": {"domain": [0.4, 6.6], "nice": false, "zero": false}, "axis": {"values": [1,2,3,4,5,6], "labelExpr": "['ADMIX','ARO','AUS','IND','TEJ','TRJ'][datum.value-1]"}},
           "x2": {"field": "xr"},
           "y": {"field": "y", "type": "quantitative", "title": "VLA", "scale": {"domain": [-2.27, 25.73], "nice": false, "zero": false}, "axis": {"values": [0,2.5,5,7.5,10,12.5,15,17.5,20,22.5,25], "labelOffset": 12, "labelExpr": "datum.value % 5 == 0 ? datum.label : ''", "tickOpacity": {"condition": {"test": "datum.value % 5 == 0", "value": 1}, "value": 0}, "gridWidth": {"condition": {"test": "datum.value % 5 == 0", "value": 1.4}, "value": 0.7}}},
           "color": {"field": "g", "type": "nominal", "legend": null}}},
        {"data": {"name": "box"}, "transform": [{"filter": "datum.p=='H'"}, {"calculate": "indexof(['ADMIX','ARO','AUS','IND','TEJ','TRJ'],datum.g)+1", "as": "pos"}, {"calculate": "datum.pos-0.1", "as": "bl"}, {"calculate": "datum.pos+0.1", "as": "br"}],
         "layer": [
           {"mark": {"type": "rule", "color": "black", "strokeWidth": 1.1}, "encoding": {"x": {"field": "pos", "type": "quantitative"}, "y": {"field": "lo", "type": "quantitative"}, "y2": {"field": "hi"}}},
           {"mark": {"type": "rect", "fill": "white", "stroke": "black", "strokeWidth": 1.2}, "encoding": {"x": {"field": "bl", "type": "quantitative"}, "x2": {"field": "br"}, "y": {"field": "q1", "type": "quantitative"}, "y2": {"field": "q3"}}},
           {"mark": {"type": "rule", "color": "black", "strokeWidth": 1.4}, "encoding": {"x": {"field": "bl", "type": "quantitative"}, "x2": {"field": "br"}, "y": {"field": "md", "type": "quantitative"}}}
         ]},
        {"data": {"name": "out"}, "transform": [{"filter": "datum.p=='H'"}, {"calculate": "indexof(['ADMIX','ARO','AUS','IND','TEJ','TRJ'],datum.g)+1", "as": "pos"}],
         "mark": {"type": "circle", "color": "black", "opacity": 1, "size": 24}, "encoding": {"x": {"field": "pos", "type": "quantitative"}, "y": {"field": "y", "type": "quantitative"}}},
        {"data": {"name": "mean"}, "transform": [{"filter": "datum.p=='H'"}],
         "mark": {"type": "rule", "color": "#333", "strokeWidth": 1.6, "strokeDash": [8, 6]}, "encoding": {"y": {"field": "y", "type": "quantitative"}}},
        {"data": {"name": "br"}, "transform": [{"filter": "datum.p=='H'"}, {"calculate": "indexof(['ADMIX','ARO','AUS','IND','TEJ','TRJ'],datum.a)+1", "as": "xa"}, {"calculate": "indexof(['ADMIX','ARO','AUS','IND','TEJ','TRJ'],datum.b)+1", "as": "xb"}, {"calculate": "(datum.xa+datum.xb)/2", "as": "xm"}],
         "layer": [
           {"mark": {"type": "rule", "color": "#222", "strokeWidth": 1.3}, "encoding": {"x": {"field": "xa", "type": "quantitative"}, "x2": {"field": "xb"}, "y": {"field": "y", "type": "quantitative"}}},
           {"transform": [{"fold": ["xa", "xb"], "as": ["k", "xe"]}], "mark": {"type": "tick", "orient": "vertical", "size": 6, "thickness": 1.3, "yOffset": 3, "color": "#222"}, "encoding": {"x": {"field": "xe", "type": "quantitative"}, "y": {"field": "y", "type": "quantitative"}}},
           {"mark": {"type": "text", "baseline": "bottom", "dy": -1, "fontSize": 12, "color": "#222"}, "encoding": {"x": {"field": "xm", "type": "quantitative"}, "y": {"field": "y", "type": "quantitative"}, "text": {"field": "s"}}}
         ]}
      ]
    }
  ],
  "config": {
    "font": "Liberation Sans",
    "view": {"stroke": "#333", "strokeWidth": 2.2},
    "range": {"category": ["#FCD639", "#7098D1", "#8C979E", "#D5AE7E", "#F1744A", "#D5E3A1"]},
    "axis": {"grid": true, "gridColor": "#ebebeb", "domain": false, "tickColor": "#333", "tickSize": 6, "tickWidth": 1.2, "labelColor": "#222", "labelFont": "Liberation Sans", "titleFont": "Liberation Sans", "titleFontWeight": "bold", "titleFontSize": 27, "titleColor": "black"},
    "axisX": {"labelFontSize": 23, "labelPadding": 4},
    "axisY": {"labelFontSize": 22, "labelPadding": 3, "titlePadding": 10},
    "title": {"anchor": "start", "frame": "bounds", "fontSize": 23, "fontWeight": "bold", "color": "black", "offset": -12, "dx": -10}
  }
}
